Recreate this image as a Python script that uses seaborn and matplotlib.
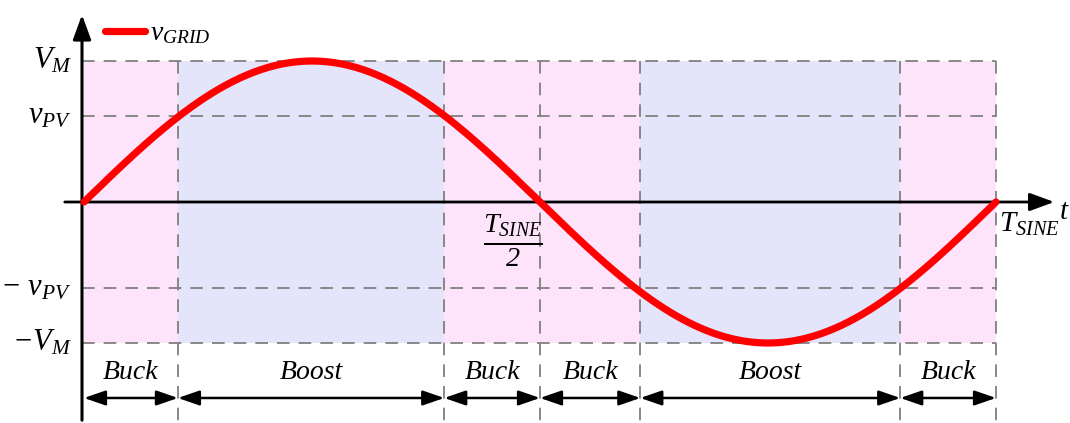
import numpy as np
import pandas as pd
import matplotlib
matplotlib.use('Agg')
import matplotlib.pyplot as plt
import seaborn as sns

# Waveform parameters (normalised: T_SINE = 1, V_M = 1)
T_SINE = 1.0
V_M = 1.0
v_PV = 0.61

# Mode boundaries (fraction of T_SINE)
boundaries = [0.0, 0.103, 0.395, 0.5, 0.61, 0.895, 1.0]
modes = ['Buck', 'Boost', 'Buck', 'Buck', 'Boost', 'Buck']
mode_colors = {'Buck': '#fde4fb', 'Boost': '#e4e4fb'}

# y tick levels and labels
levels = [V_M, v_PV, -v_PV, -V_M]
level_labels = [r'$V_M$', r'$v_{PV}$', r'$-\ v_{PV}$', r'$-V_M$']

t = np.linspace(0, T_SINE, 400)
df = pd.DataFrame({'t': t, 'v': V_M * np.sin(2 * np.pi * t / T_SINE)})

sns.set_style('white')
plt.rcParams['mathtext.fontset'] = 'custom'
plt.rcParams['mathtext.it'] = 'Liberation Serif:italic'
plt.rcParams['mathtext.rm'] = 'Liberation Serif:italic'
plt.rcParams['font.family'] = ['Liberation Serif', 'DejaVu Serif']
plt.rcParams['text.color'] = 'black'

fig = plt.figure(figsize=(10.70, 4.23), dpi=100)
ax = fig.add_axes([0, 0, 1, 1])
ax.set_xlim(-84 / 912, (1070 - 84) / 912)
ax.set_ylim(-(423 - 202) / 141, 202 / 141)
ax.axis('off')

grey = '#808080'
dash = (0, (7, 5))
y_bottom = -(423 - 202) / 141
y_arrow = -1.39

# shaded mode regions
for i, m in enumerate(modes):
    ax.fill_between([boundaries[i], boundaries[i + 1]], -V_M, V_M,
                    color=mode_colors[m], linewidth=0, zorder=0)

# dashed level lines
for lv in levels:
    ax.plot([-0.002, T_SINE], [lv, lv], color=grey, lw=1.3, ls=dash, zorder=1)
# dashed vertical boundaries
for b in boundaries[1:]:
    ax.plot([b, b], [V_M, y_bottom], color=grey, lw=1.3, ls=dash, zorder=1)

# axes with arrows
ax.annotate('', xy=(1057 / 912 - 84 / 912, 0), xytext=(-22 / 912, 0),
            arrowprops=dict(arrowstyle='-|>,head_length=1.5,head_width=0.55',
                            color='black', lw=2), zorder=3)
ax.annotate('', xy=(-2 / 912, (202 - 12) / 141), xytext=(-2 / 912, y_bottom),
            arrowprops=dict(arrowstyle='-|>,head_length=1.5,head_width=0.55',
                            color='black', lw=2.2), zorder=3)

# sine wave
sns.lineplot(data=df, x='t', y='v', color='#ff0000', linewidth=5.2,
             label=r'$v_{GRID}$', ax=ax, zorder=4, solid_capstyle='round')

leg = ax.legend(loc='upper left', bbox_to_anchor=(94 / 1070, 1 - 10 / 423),
                frameon=False, fontsize=20, handlelength=1.45, handletextpad=0.15,
                borderaxespad=0)

# y labels
for lv, lab in zip(levels, level_labels):
    ax.text(-12 / 912, lv, lab, ha='right', va='center', fontsize=22)

# x labels
ax.text(0.5 - 27 / 912, -0.07, r'$\frac{T_{SINE}}{2}$', ha='center', va='top', fontsize=29)
ax.text(T_SINE + 3 / 912, -0.06, r'$T_{SINE}$', ha='left', va='top', fontsize=21)
ax.text(1070 / 912 - 84 / 912, -0.07, r'$t$', ha='right', va='center', fontsize=21)

# mode arrows and labels
for i, m in enumerate(modes):
    x0, x1 = boundaries[i], boundaries[i + 1]
    ax.annotate('', xy=(x1, y_arrow), xytext=(x0, y_arrow),
                arrowprops=dict(arrowstyle='<|-|>,head_length=1.3,head_width=0.45',
                                color='black', lw=1.8, shrinkA=0, shrinkB=0))
    ax.text((x0 + x1) / 2, y_arrow + 0.09, m, ha='center', va='bottom',
            fontsize=20, style='italic')

fig.savefig('out.png', dpi=100)
plt.close(fig)
